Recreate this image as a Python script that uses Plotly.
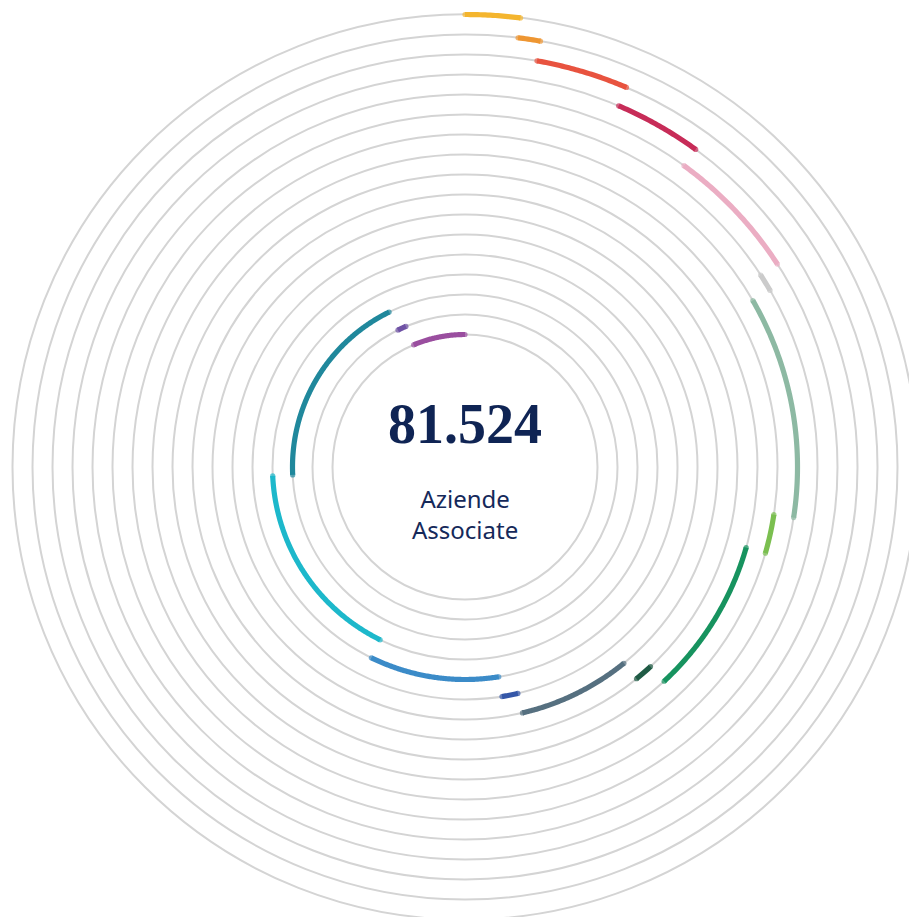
import numpy as np
import plotly.graph_objects as go

# ---- data ----
total_label = "81.524"
subtitle = ["Aziende", "Associate"]
categories = [f"Settore {i}" for i in range(1, 18)]
values = [1596, 679, 2944, 2933, 4755, 668, 8787, 1642, 7043,
          883, 5854, 906, 7994, 13859, 15071, 747, 5163]
colors = ["#F4B52E", "#EE9632", "#E8533F", "#C72C58", "#EBADC3", "#CBCBCB",
          "#8DB9A3", "#7BBF50", "#17935F", "#1F5B45", "#567080", "#3557A8",
          "#3B8BC8", "#1DB8CB", "#20889C", "#6F52A5", "#9A4E9F"]

# ---- layout geometry (pixels) ----
CX, CY = 465, 467
R_MAX = 460.0              # polar radius in px (radial unit = 1 px)
PLOT = int(2 * R_MAX)
ML, MT = CX - int(R_MAX), CY - int(R_MAX)
W, H = ML + PLOT, MT + PLOT
OUTER = 452.5
STEP = 20.0
n = len(values)
radii = [OUTER - STEP * i for i in range(n)]

vals = np.array(values, dtype=float)
cum = np.concatenate([[0], np.cumsum(vals)])
ang = cum / cum[-1] * 360.0

fig = go.Figure()
for i in range(n):
    t0, t1 = ang[i], ang[i + 1]
    m = max(2, int((t1 - t0) * 3) + 2)
    theta = np.linspace(t0, t1, m)
    rr = np.full(m, radii[i])
    sizes = np.zeros(m)
    sizes[0] = sizes[-1] = 5.2
    fig.add_trace(go.Scatterpolar(
        r=rr, theta=theta, mode="lines+markers",
        line=dict(color=colors[i], width=5.2),
        marker=dict(size=sizes, color=colors[i], line=dict(width=0)),
        name=categories[i], showlegend=False,
        hovertemplate=f"{categories[i]}: {values[i]}<extra></extra>",
    ))

def px(x):
    return (x - ML) / PLOT

def py(y):
    return 1 - (y - MT) / PLOT

fig.update_layout(
    width=W, height=H,
    margin=dict(l=ML, t=MT, r=0, b=0, pad=0),
    paper_bgcolor="white", plot_bgcolor="white",
    polar=dict(
        domain=dict(x=[0, 1], y=[0, 1]),
        bgcolor="white",
        radialaxis=dict(range=[0, R_MAX], tickvals=radii, showticklabels=False,
                        ticks="", showline=False, gridcolor="#D4D4D4", gridwidth=1.6),
        angularaxis=dict(rotation=90, direction="clockwise", showgrid=False,
                         showticklabels=False, ticks="", showline=False),
    ),
    annotations=[
        dict(text=f"<b>{total_label}</b>", x=px(465), y=py(424), xref="paper", yref="paper",
             xanchor="center", yanchor="middle", showarrow=False,
             font=dict(family="Liberation Serif", size=56, color="#0F2454")),
        dict(text="<br>".join(subtitle), x=px(465), y=py(514), xref="paper", yref="paper",
             xanchor="center", yanchor="middle", showarrow=False, align="center",
             font=dict(family="Noto Sans", size=24, color="#15295A")),
    ],
)

fig.write_html(
    "out.html",
    config={"displayModeBar": False},
    post_script="document.body.style.margin='0';document.body.style.overflow='hidden';"
                "document.documentElement.style.overflow='hidden';",
)
